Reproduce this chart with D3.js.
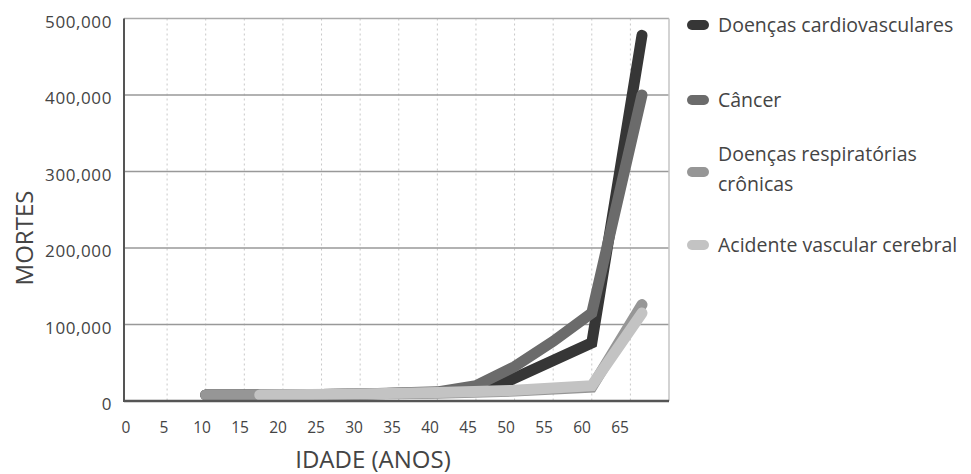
<!DOCTYPE html>
<html><head><meta charset="utf-8">
<script src="https://cdn.jsdelivr.net/npm/d3@7"></script>
<style>body{margin:0;background:#fff}svg{display:block}text{font-family:"Open Sans",sans-serif;fill:#444}</style>
</head><body>
<svg id="c" width="971" height="474"></svg>
<script>
const series = ["Doenças cardiovasculares","Câncer","Doenças respiratórias crônicas","Acidente vascular cerebral"];
const legendLines = [["Doenças cardiovasculares"],["Câncer"],["Doenças respiratórias","crônicas"],["Acidente vascular cerebral"]];
const agesCardio = [10,20,30,40,47,60,66.5];
const valsCardio = [8000,8000,9000,11000,16000,76000,478000];
const agesCancer = [10,20,30,40,45,50,55,60,66.5];
const valsCancer = [8000,8000,9000,12000,20000,45000,78000,115000,400000];
const agesResp = [10,20,30,40,50,60,66.5];
const valsResp = [8000,8000,9000,10000,13000,18000,126000];
const agesAVC = [17,30,40,50,60,66.5];
const valsAVC = [8000,9000,11000,14000,20000,115000];
const xTicks = [0,5,10,15,20,25,30,35,40,45,50,55,60,65];
const yTicks = [0,100000,200000,300000,400000,500000];
const colors = ["#363636","#6b6b6b","#969696","#c3c3c3"];

const svg = d3.select("#c");
const L=124, R=669, T=18.5, B=401;
const x = d3.scaleLinear().domain([0,70]).range([128.5,669]);
const xl = d3.scaleLinear().domain([0,65]).range([126,620]);
const y = d3.scaleLinear().domain([0,500000]).range([B,T]);

// vertical dotted grid
svg.append("g").selectAll("line").data(xTicks.filter(d=>d>0)).join("line")
  .attr("x1",d=>x(d)).attr("x2",d=>x(d)).attr("y1",T).attr("y2",B)
  .attr("stroke","#c8c8c8").attr("stroke-width",1).attr("stroke-dasharray","2,3");
// horizontal grid
svg.append("g").selectAll("line").data(yTicks.filter(d=>d>0)).join("line")
  .attr("x1",L).attr("x2",R).attr("y1",d=>y(d)).attr("y2",d=>y(d))
  .attr("stroke",d=>d===500000?"#aaa":"#999").attr("stroke-width",1.5);
// right border
svg.append("line").attr("x1",R).attr("x2",R).attr("y1",T).attr("y2",B).attr("stroke","#c4c4c4").attr("stroke-width",1.5);

// series lines
const data = [
  d3.zip(agesCardio,valsCardio),
  d3.zip(agesCancer,valsCancer),
  d3.zip(agesResp,valsResp),
  d3.zip(agesAVC,valsAVC)
];
const line = d3.line().x(d=>x(d[0])).y(d=>y(d[1]));
svg.append("g").selectAll("path").data(data).join("path")
  .attr("d",line).attr("fill","none").attr("stroke",(d,i)=>colors[i])
  .attr("stroke-width",11).attr("stroke-linecap","round").attr("stroke-linejoin","miter");

// axes lines
svg.append("line").attr("x1",L).attr("x2",L).attr("y1",T).attr("y2",B+1).attr("stroke","#555").attr("stroke-width",2);
svg.append("line").attr("x1",L).attr("x2",R).attr("y1",B).attr("y2",B).attr("stroke","#555").attr("stroke-width",2.5);

// y tick labels
svg.append("g").selectAll("text").data(yTicks).join("text")
  .attr("x",112).attr("y",d=>y(d)+4).attr("dy","0.32em").attr("text-anchor","end")
  .attr("font-size",17).style("letter-spacing","0.6px").text(d3.format(","));
// x tick labels
svg.append("g").selectAll("text").data(xTicks).join("text")
  .attr("x",d=>xl(d)).attr("y",433).attr("text-anchor","middle")
  .attr("font-size",15.5).text(d=>d);

// axis titles
svg.append("text").attr("transform","translate(33,238) rotate(-90)").attr("text-anchor","middle")
  .attr("font-size",24).text("MORTES");
svg.append("text").attr("x",373).attr("y",468).attr("text-anchor","middle")
  .attr("font-size",24).text("IDADE (ANOS)");

// legend
const legY = [25,100,172,245];
const lg = svg.append("g");
legendLines.forEach((lines,i)=>{
  lg.append("line").attr("x1",692).attr("x2",704).attr("y1",legY[i]).attr("y2",legY[i])
    .attr("stroke",colors[i]).attr("stroke-width",10).attr("stroke-linecap","round");
  const t = lg.append("text").attr("x",718).attr("font-size",19.5);
  const n = lines.length;
  lines.forEach((s,j)=>{
    t.append("tspan").attr("x",718).attr("y",legY[i] + (j-(n-1)/2)*30 - (n>1?3:0)).attr("dy","0.35em").text(s);
  });
});
</script>
</body></html>
